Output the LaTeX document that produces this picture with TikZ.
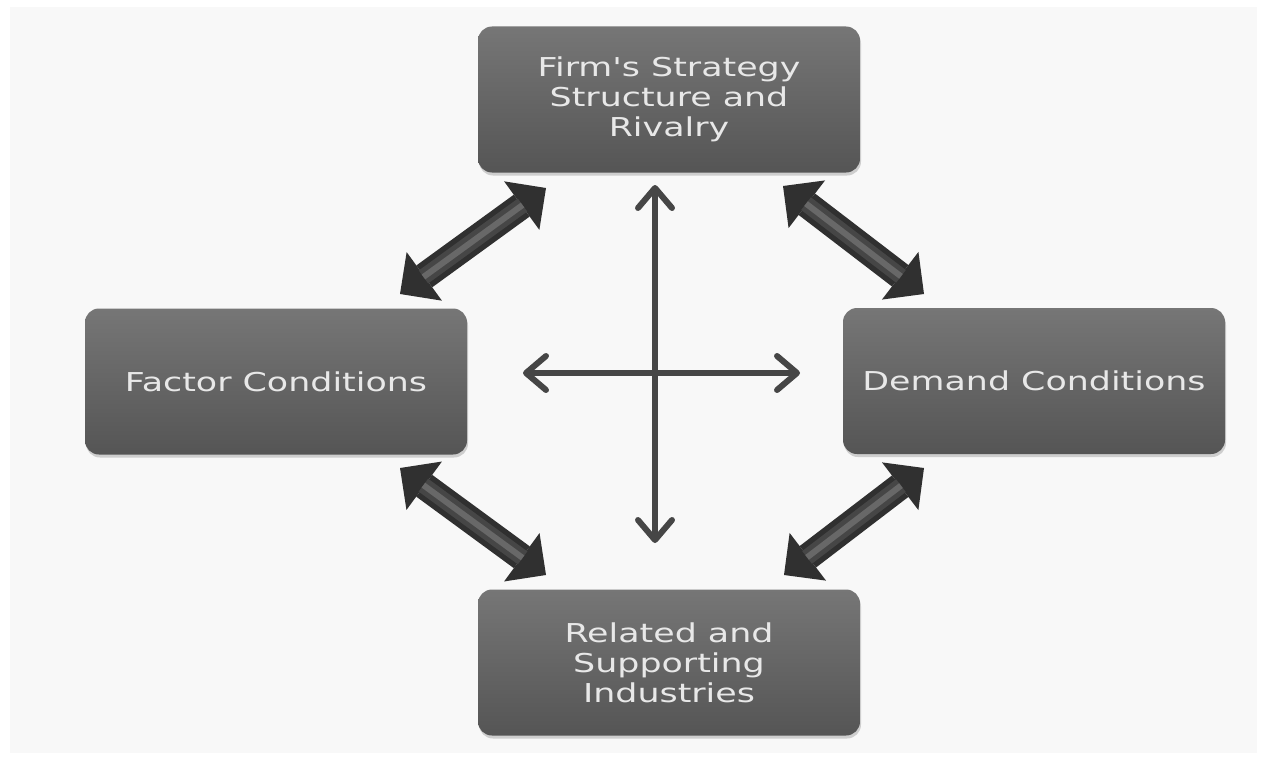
\documentclass[tikz,border=0pt]{standalone}
\usepackage{fontspec}
\newfontfamily\boxfont[FakeStretch=1.34]{DejaVu Sans}
\usetikzlibrary{arrows.meta,shadows}
\definecolor{panelgray}{HTML}{F8F8F8}
\definecolor{boxtop}{HTML}{767676}
\definecolor{boxbot}{HTML}{555555}
\definecolor{boxtext}{HTML}{E8E8E8}
\definecolor{arrowdark}{HTML}{303030}
\definecolor{arrowmid}{HTML}{464646}
\definecolor{arrowlight}{HTML}{686868}
\definecolor{thingray}{HTML}{464646}
\tikzset{
  forcebox/.style={rounded corners=14pt, top color=boxtop, bottom color=boxbot,
    minimum width=382pt, minimum height=146pt, inner sep=0pt, text=boxtext,
    align=center, font=\boxfont\fontsize{26}{30}\selectfont,
    drop shadow={shadow xshift=1pt, shadow yshift=-3pt, opacity=0.35}},
  bigarrow/.style={draw=arrowdark, line width=27pt,
    {Triangle[width=60pt,length=30pt,line width=0pt]}-{Triangle[width=60pt,length=30pt,line width=0pt]}},
  bigshade/.style={line width=#1, shorten <=29pt, shorten >=29pt},
  thinarrow/.style={draw=thingray, line width=6pt,
    {Straight Barb[length=20pt,width=34pt,round]}-{Straight Barb[length=20pt,width=34pt,round]}}
}
\begin{document}
\begin{tikzpicture}[x=1pt, y=-1pt]
  \useasboundingbox (0,0) rectangle (1261,760);
  \fill[white] (0,0) rectangle (1261,760);
  \fill[panelgray] (10,7) rectangle (1257,753);

  \node[forcebox] (firm) at (669,99.5) {Firm's Strategy\\Structure and\\Rivalry};
  \node[forcebox] (factor) at (276,381.5) {Factor Conditions};
  \node[forcebox] (demand) at (1034,381) {Demand Conditions};
  \node[forcebox] (related) at (669,662.5) {Related and\\Supporting\\Industries};

  \coordinate (factorup) at (400,294);
  \coordinate (firmleft) at (546,188);
  \coordinate (firmright) at (783,186);
  \coordinate (demandup) at (924,294);
  \coordinate (factordown) at (400,468);
  \coordinate (relatedleft) at (546,575);
  \coordinate (demanddown) at (924,468);
  \coordinate (relatedright) at (784,575);

  \foreach \a/\b in {factorup/firmleft, firmright/demandup, factordown/relatedleft, demanddown/relatedright} {
    \draw[bigarrow] (\a) -- (\b);
    \draw[bigshade=16pt, arrowmid] (\a) -- (\b);
    \draw[bigshade=6pt, arrowlight] (\a) -- (\b);
  }

  \coordinate (vtop) at (655,185);
  \coordinate (vbot) at (655,543);
  \coordinate (hleft) at (523,373);
  \coordinate (hright) at (800,373);
  \draw[thinarrow] (vtop) -- (vbot);
  \draw[thinarrow] (hleft) -- (hright);
\end{tikzpicture}
\end{document}
